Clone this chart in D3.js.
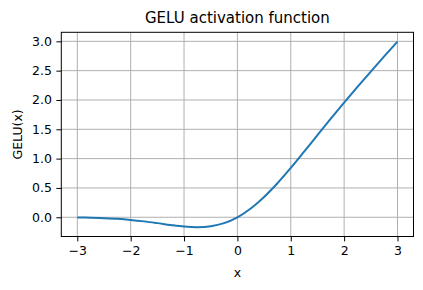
<!DOCTYPE html>
<html>
<head>
<meta charset="utf-8">
<script src="https://cdn.jsdelivr.net/npm/d3@7"></script>
<style>
  body { margin: 0; background: #fff; }
  svg { display: block; font-family: "DejaVu Sans", sans-serif; }
</style>
</head>
<body>
<div id="chart"></div>
<script>
// values
const xValues = [-3, -2.75, -2.5, -2.25, -2, -1.75, -1.5, -1.25, -1, -0.75, -0.5, -0.25,
  0, 0.25, 0.5, 0.75, 1, 1.25, 1.5, 1.75, 2, 2.25, 2.5, 2.75, 3];
const gelu = [-0.004, -0.008, -0.016, -0.027, -0.045, -0.070, -0.100, -0.132, -0.159, -0.170, -0.154, -0.100,
  0, 0.150, 0.346, 0.580, 0.841, 1.118, 1.400, 1.680, 1.955, 2.223, 2.485, 2.742, 2.996];
const xTicks = [-3, -2, -1, 0, 1, 2, 3];
const yTicks = [0, 0.5, 1, 1.5, 2, 2.5, 3];

const W = 423, H = 290;
const margin = { top: 32.3, right: 9.5, bottom: 53.5, left: 61.3 };
const width = W - margin.left - margin.right;
const height = H - margin.top - margin.bottom;

const svg = d3.select("#chart").append("svg")
  .attr("width", W)
  .attr("height", H);

const g = svg.append("g")
  .attr("transform", "translate(" + margin.left + "," + margin.top + ")");

const x = d3.scaleLinear().domain([-3.3, 3.3]).range([0, width]);
const y = d3.scaleLinear().domain([-0.328, 3.154]).range([height, 0]);

// grid
g.append("g").selectAll("line")
  .data(xTicks).enter().append("line")
  .attr("x1", d => x(d)).attr("x2", d => x(d))
  .attr("y1", 0).attr("y2", height)
  .attr("stroke", "#b0b0b0").attr("stroke-width", 1);
g.append("g").selectAll("line")
  .data(yTicks).enter().append("line")
  .attr("y1", d => y(d)).attr("y2", d => y(d))
  .attr("x1", 0).attr("x2", width)
  .attr("stroke", "#b0b0b0").attr("stroke-width", 1);

// curve
const line = d3.line()
  .x((d, i) => x(xValues[i]))
  .y(d => y(d))
  .curve(d3.curveCatmullRom);

g.append("path")
  .datum(gelu)
  .attr("d", line)
  .attr("fill", "none")
  .attr("stroke", "#1f77b4")
  .attr("stroke-width", 2);

// axes
const xAxis = g.append("g")
  .attr("transform", "translate(0," + height + ")")
  .call(d3.axisBottom(x).tickValues(xTicks).tickSize(4.9).tickPadding(4.5)
    .tickFormat(d => d3.format("d")(d).replace("-", "\u2212")));
const yAxis = g.append("g")
  .call(d3.axisLeft(y).tickValues(yTicks).tickSize(4.9).tickPadding(4.5)
    .tickFormat(d3.format(".1f")));

[xAxis, yAxis].forEach(a => {
  a.select(".domain").remove();
  a.selectAll("line").attr("stroke", "#000").attr("stroke-width", 1);
  a.selectAll("text")
    .attr("fill", "#000")
    .style("font-size", "12.5px")
    .style("font-family", "DejaVu Sans, sans-serif");
});

// frame
g.append("rect")
  .attr("width", width).attr("height", height)
  .attr("fill", "none").attr("stroke", "#000").attr("stroke-width", 1);

// labels
svg.append("text")
  .attr("x", margin.left + width / 2)
  .attr("y", 23)
  .attr("text-anchor", "middle")
  .style("font-size", "15px")
  .text("GELU activation function");

svg.append("text")
  .attr("x", margin.left + width / 2)
  .attr("y", 277)
  .attr("text-anchor", "middle")
  .style("font-size", "12.5px")
  .text("x");

svg.append("text")
  .attr("transform", "translate(22," + (margin.top + height / 2) + ") rotate(-90)")
  .attr("text-anchor", "middle")
  .style("font-size", "12.5px")
  .text("GELU(x)");
</script>
</body>
</html>
